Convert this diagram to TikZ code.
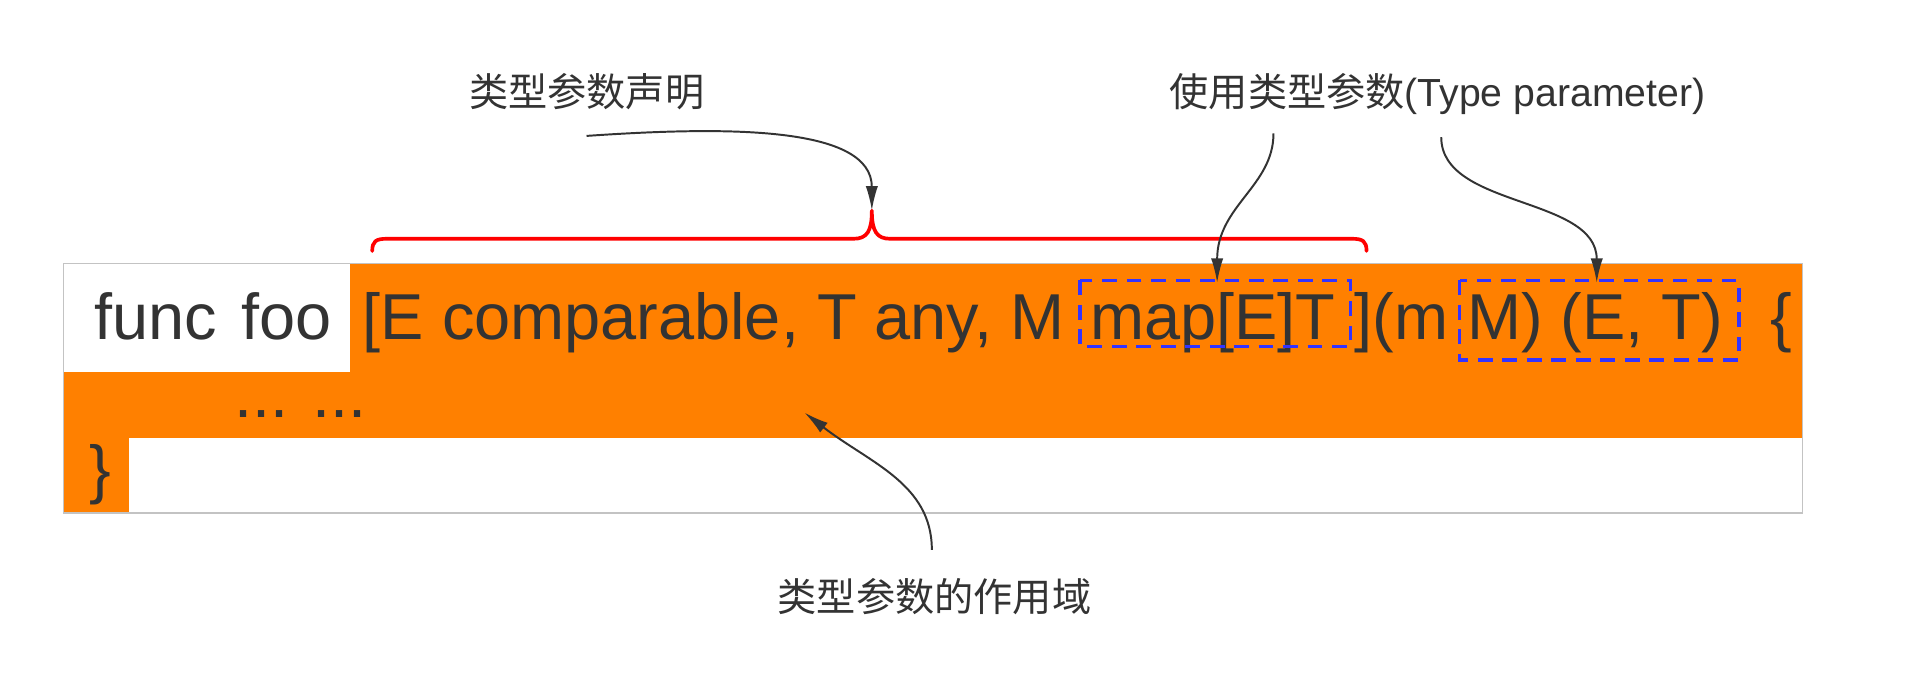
\documentclass[tikz,border=0pt]{standalone}
\usepackage{fontspec}
\setmainfont{Liberation Sans}
\newfontfamily\cjk{Noto Sans CJK SC}
\usetikzlibrary{arrows.meta}
\definecolor{scopeorange}{RGB}{255,128,0}
\definecolor{txtgray}{RGB}{51,51,51}
\definecolor{dashblue}{RGB}{51,51,255}
\definecolor{bracered}{RGB}{255,0,0}
\definecolor{bordergray}{RGB}{195,195,195}
\begin{document}
\begin{tikzpicture}[x=1pt,y=-1pt,
  code/.style={anchor=base west,inner sep=0pt,text=txtgray,font=\fontsize{53}{60}\selectfont},
  lbl/.style={anchor=base west,inner sep=0pt,text=txtgray,font=\fontsize{32}{38}\selectfont},
  pointer/.style={draw=txtgray,line width=1.6pt,-{Latex[length=20pt,width=10pt]}},
  usebox/.style={draw=dashblue,line width=3pt,dash pattern=on 12pt off 8pt},
  bracepath/.style={draw=bracered,line width=3pt,line cap=round,line join=round},
]
\useasboundingbox (0,0) rectangle (1568,561);
\fill[white] (0,0) rectangle (1568,561);
% code block with scope highlight
\fill[scopeorange] (52,215) rectangle (1472,419);
\fill[white] (52,215) rectangle (286,304);
\fill[white] (105,358) rectangle (1472,419);
\draw[bordergray,line width=1pt] (52,215) rectangle (1472,419);

% code text
\node[code] (func) at (77,277) {func};
\node[code] (foo) at (197,277) {foo};
\node[code] (decl) at (296,277) {[E comparable, T any, M};
\node[code] (mapET) at (890,277) {map[E]T};
\node[code] (mparen) at (1106,277) {](m};
\node[code] (rettype) at (1198,277) {M) (E, T)};
\node[code] (lbrace) at (1446,277) {\{};
\node[code] (dots) at (191,341) {... ...};
\node[code] (rbrace) at (73,401) {\}};

% dashed boxes marking uses of type parameters
\draw[usebox] (882,229) rectangle (1103,283);
\draw[usebox] (1192,229) rectangle (1420,294);

% labels
\node[lbl] (decllabel) at (383,87) {\cjk 类型参数声明};
\node[lbl] (uselabel) at (955,87) {{\cjk 使用类型参数}(Type parameter)};
\node[lbl] (scopelabel) at (635,499) {\cjk 类型参数的作用域};

% red brace over the declaration
\coordinate (braceTip) at (712,172);
\draw[bracepath] (304,205) .. controls (304,197) and (307,195) .. (316,195)
  -- (697,195) .. controls (708,195) and (712,189) .. (braceTip)
  .. controls (712,189) and (716,195) .. (727,195)
  -- (1104,195) .. controls (1113,195) and (1116,197) .. (1116,205);

% connectors
\coordinate (declStart) at (479,111);
\coordinate (useStartA) at (1040,109);
\coordinate (useStartB) at (1177,112);
\coordinate (useTipA) at (994,231);
\coordinate (useTipB) at (1304,231);
\coordinate (scopeStart) at (761,449);
\coordinate (scopeTip) at (657,337);

\draw[pointer] (declStart) .. controls (595,103) and (712,103) .. (braceTip);
\draw[pointer] (useStartA) .. controls (1040,152) and (994,168) .. (useTipA);
\draw[pointer] (useStartB) .. controls (1177,170) and (1304,160) .. (useTipB);
\draw[pointer] (scopeStart) .. controls (761,395) and (710,378) .. (scopeTip);
\end{tikzpicture}
\end{document}
